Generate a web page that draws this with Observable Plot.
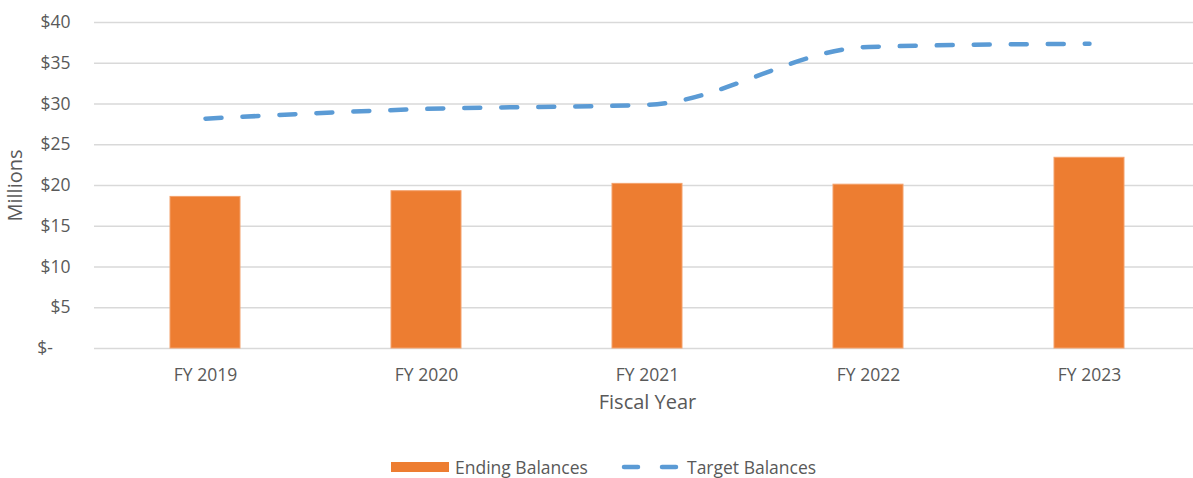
<!DOCTYPE html>
<html>
<head>
<meta charset="utf-8">
<script src="https://cdn.jsdelivr.net/npm/d3@7"></script>
<script src="https://cdn.jsdelivr.net/npm/@observablehq/plot@0.6"></script>
<style>
  html, body { margin: 0; padding: 0; background: #fff; overflow: hidden; }
  body { width: 1193px; height: 478px; font-family: "Open Sans", sans-serif; }
  #chart svg text { white-space: pre; }
  #legend { position: relative; height: 40px; font-family: "Open Sans", sans-serif; font-size: 17.5px; color: #595959; }
  .item { position: absolute; top: 16px; display: flex; align-items: center; height: 30px; }
</style>
</head>
<body>
<div id="chart"></div>
<div id="legend"></div>
<script>
const years = ["FY 2019", "FY 2020", "FY 2021", "FY 2022", "FY 2023"];
const endingBalances = [18.6, 19.3, 20.2, 20.1, 23.4];
const targetBalances = [28.2, 29.4, 29.9, 37.0, 37.4];
const yTicks = [0, 5, 10, 15, 20, 25, 30, 35, 40];
const seriesNames = ["Ending Balances", "Target Balances"];

const barData = years.map((y, i) => ({year: y, value: endingBalances[i]}));
const lineData = years.map((y, i) => ({year: y, value: targetBalances[i]}));

const textColor = "#595959";
const orange = "#ED7D31";
const blue = "#5B9BD5";

const chart = Plot.plot({
  width: 1193,
  height: 436,
  marginTop: 22,
  marginLeft: 94,
  marginRight: -7,
  marginBottom: 88,
  style: {fontFamily: "Open Sans, sans-serif", fontSize: "17.5px", color: textColor, background: "white"},
  x: {domain: years, paddingInner: 0.683, paddingOuter: 0.3415, label: null},
  y: {domain: [0, 40], label: null},
  marks: [
    Plot.ruleY(yTicks, {stroke: "#D9D9D9", strokeWidth: 1.3}),
    Plot.axisY({ticks: yTicks, tickSize: 0, tickPadding: 24, fontSize: 17.5,
      tickFormat: d => d === 0 ? "$-\u2002\u2002" : "$" + d, label: null}),
    Plot.axisX({tickSize: 0, tickPadding: 20, fontSize: 17.5, label: null}),
    Plot.text(["Millions"], {frameAnchor: "left", textAnchor: "middle", rotate: -90, dx: -79, fontSize: 20, fill: textColor}),
    Plot.text(["Fiscal Year"], {frameAnchor: "bottom", dy: 60, fontSize: 20, fill: textColor}),
    Plot.barY(barData, {x: "year", y: "value", fill: orange, stroke: "#F4A26C", strokeWidth: 1}),
    Plot.lineY(lineData, {x: "year", y: "value", stroke: blue, strokeWidth: 4.5,
      strokeDasharray: "16,21", strokeLinecap: "round", curve: "monotone-x"})
  ]
});
document.getElementById("chart").appendChild(chart);

// legend
const legend = document.getElementById("legend");
legend.innerHTML = `
  <div class="item" style="left:391px">
    <svg width="58" height="12"><rect x="0" y="1" width="58" height="10" fill="${orange}"></rect></svg>
    <span style="margin-left:6px">${seriesNames[0]}</span>
  </div>
  <div class="item" style="left:620px">
    <svg width="62" height="12"><line x1="4" y1="6" x2="58" y2="6" stroke="${blue}" stroke-width="4.5" stroke-linecap="round" stroke-dasharray="14,24"></line></svg>
    <span style="margin-left:5px">${seriesNames[1]}</span>
  </div>`;
</script>
</body>
</html>
